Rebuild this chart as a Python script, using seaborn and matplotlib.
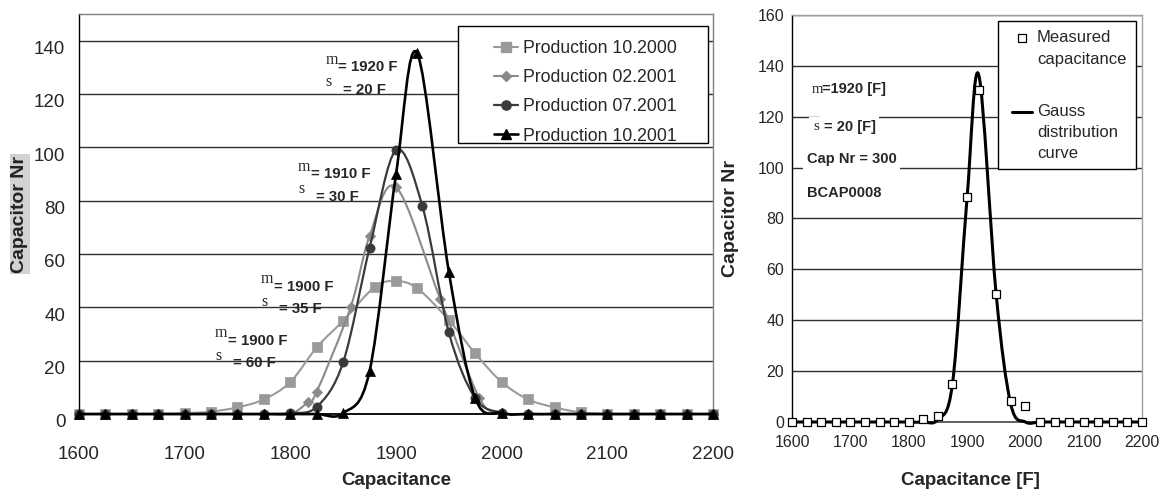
import numpy as np
import matplotlib
matplotlib.use("Agg")
import matplotlib.pyplot as plt
import matplotlib.transforms as mtransforms
from matplotlib.path import Path
from matplotlib.patches import PathPatch, Rectangle
from matplotlib.lines import Line2D
import seaborn as sns

# ---------------- data: capacitance distributions per production batch ----------------
x_step25 = [1600, 1625, 1650, 1675, 1700, 1725, 1750, 1775, 1800, 1825, 1850, 1875,
            1900, 1925, 1950, 1975, 2000, 2025, 2050, 2075, 2100, 2125, 2150, 2175, 2200]

prod_2000_10_x = [1600, 1625, 1650, 1675, 1700, 1725, 1750, 1775, 1800, 1825, 1850, 1880,
                  1900, 1920, 1950, 1975, 2000, 2025, 2050, 2075, 2100, 2125, 2150, 2175, 2200]
prod_2000_10_y = [0, 0, 0, 0, 0.3, 0.9, 2.5, 5.5, 12, 25, 35, 47.7,
                  49.8, 47.2, 35.2, 22.7, 12, 5.5, 2.5, 0.6, 0, 0, 0, 0, 0]

prod_2001_02_x = [1600, 1625, 1650, 1675, 1700, 1725, 1750, 1775, 1800, 1817, 1825, 1857,
                  1875, 1900, 1942, 1979, 2000, 2025, 2050, 2075, 2100, 2125, 2150, 2175, 2200]
prod_2001_02_y = [0, 0, 0, 0, 0, 0, 0, 0, 0, 4.6, 8.4, 40,
                  66.7, 85.1, 43, 5.9, 0.5, 0, 0, 0, 0, 0, 0, 0, 0]

prod_2001_07_x = x_step25
prod_2001_07_y = [0, 0, 0, 0, 0, 0, 0, 0, 0.3, 2.7, 19.4, 62.3,
                  98.9, 77.9, 30.6, 5.9, 0.5, 0, 0, 0, 0, 0, 0, 0, 0]

prod_2001_10_x = [1600, 1625, 1650, 1675, 1700, 1725, 1750, 1775, 1800, 1825, 1850, 1875,
                  1900, 1920, 1950, 1975, 2000, 2025, 2050, 2075, 2100, 2125, 2150, 2175, 2200]
prod_2001_10_y = [0, 0, 0, 0, 0, 0, 0, 0, 0, 0, 0.3, 16.1,
                  89.9, 135.3, 53.3, 5.9, 0.3, 0, 0, 0, 0, 0, 0, 0, 0]

series_labels = ["Production 10.2000", "Production 02.2001",
                 "Production 07.2001", "Production 10.2001"]

# ---------------- data: BCAP0008 measurement vs. Gauss fit ----------------
bcap_x = [1600, 1625, 1650, 1675, 1700, 1725, 1750, 1775, 1800, 1825, 1850, 1875,
          1900, 1920, 1950, 1975, 2000, 2025, 2050, 2075, 2100, 2125, 2150, 2175, 2200]
bcap_measured = [0, 0, 0, 0, 0, 0, 0, 0, 0, 1.3, 2.4, 15.1,
                 88.5, 130.5, 50.2, 8.3, 6.3, 0, 0, 0, 0, 0, 0, 0, 0]
bcap_gauss = [0, 0, 0, 0, 0, 0, 0, 0, 0, 0, 1, 15,
              88, 136.5, 50, 7, 0, 0, 0, 0, 0, 0, 0, 0, 0]

x_ticks = [1600, 1700, 1800, 1900, 2000, 2100, 2200]
left_y_ticks = [0, 20, 40, 60, 80, 100, 120, 140]
right_y_ticks = [0, 20, 40, 60, 80, 100, 120, 140, 160]

# ---------------- style ----------------
sns.set_style("white")
plt.rcParams["font.family"] = ["Liberation Sans", "DejaVu Sans"]
plt.rcParams["axes.linewidth"] = 1.0

SERIF = ["Liberation Serif", "DejaVu Serif"]


def smooth_path(xs, ys):
    """Spreadsheet-style smoothed line: cubic Bezier through every point."""
    pts = np.column_stack([xs, ys]).astype(float)
    n = len(pts)
    verts = [pts[0]]
    codes = [Path.MOVETO]
    for i in range(n - 1):
        p0 = pts[i - 1] if i > 0 else pts[i]
        p1 = pts[i]
        p2 = pts[i + 1]
        p3 = pts[i + 2] if i + 2 < n else pts[i + 1]
        verts += [p1 + (p2 - p0) / 6.0, p2 - (p3 - p1) / 6.0, p2]
        codes += [Path.CURVE4] * 3
    return Path(verts, codes)


fig = plt.figure(figsize=(11.63, 4.93), dpi=100)
ax1 = fig.add_axes([0.0679, 0.1602, 0.5452, 0.8114])
ax2 = fig.add_axes([0.681, 0.144, 0.301, 0.8256])

# ================= left panel =================
left_series = [
    (prod_2000_10_x, prod_2000_10_y, "#9a9a9a", "s", 46, 1.5),
    (prod_2001_02_x, prod_2001_02_y, "#8a8a8a", "D", 28, 1.5),
    (prod_2001_07_x, prod_2001_07_y, "#3a3a3a", "o", 44, 1.6),
    (prod_2001_10_x, prod_2001_10_y, "#000000", "^", 52, 1.9),
]
for k, (xs, ys, col, mk, sz, lw) in enumerate(left_series):
    patch = PathPatch(smooth_path(xs, ys), facecolor="none", edgecolor=col, lw=lw,
                      zorder=3 + k, clip_on=False)
    ax1.add_patch(patch)
    sns.scatterplot(x=xs, y=ys, marker=mk, s=sz, color=col, edgecolor=col,
                    linewidth=0.5, ax=ax1, zorder=3.5 + k, clip_on=False, legend=False)

ax1.set_xlim(1600, 2200)
ax1.set_ylim(0, 150)
ax1.set_xticks(x_ticks)
ax1.set_yticks(left_y_ticks)
ax1.yaxis.grid(True, color="#303030", lw=1.0)
ax1.set_axisbelow(True)
for side in ("top", "right"):
    ax1.spines[side].set_color("#808080")
ax1.spines["left"].set_color("black")
ax1.spines["bottom"].set_color("black")
ax1.spines["bottom"].set_linewidth(1.3)
ax1.tick_params(axis="x", direction="out", length=5, width=1, pad=18, labelsize=13.5)
ax1.tick_params(axis="y", direction="out", length=4.3, width=1, pad=5.5, labelsize=13.5)
shift = mtransforms.ScaledTranslation(0, -5 / 72, fig.dpi_scale_trans)
for lbl in ax1.get_yticklabels():
    lbl.set_transform(lbl.get_transform() + shift)

ax1.set_xlabel("Capacitance", fontsize=13.5, fontweight="bold")
ax1.xaxis.set_label_coords(0.5, -0.165)
ax1.xaxis.label.set_va("center")
ax1.set_ylabel("Capacitor Nr", fontsize=14, fontweight="bold", color="#222222",
               bbox=dict(facecolor="#d2d2d2", edgecolor="none", pad=1.0))
ax1.yaxis.set_label_coords(-0.093, 0.5)
ax1.yaxis.label.set_va("center")

# legend frame and entries
ax1.add_patch(Rectangle((0.598, 0.6775), 0.394, 0.2925, transform=ax1.transAxes,
                        facecolor="white", edgecolor="black", lw=1.0, zorder=8))
handles = [Line2D([], [], color=c, marker=m, markersize=np.sqrt(s), lw=lw,
                  markeredgecolor=c) for (_, _, c, m, s, lw) in left_series]
leg = ax1.legend(handles, series_labels, loc="upper left", bbox_to_anchor=(0.6546, 0.935),
                 frameon=False, fontsize=12.7, borderpad=0, borderaxespad=0,
                 handlelength=1.36, handletextpad=0.28, labelspacing=0.69)
leg.set_zorder(9)

# distribution parameters written next to each curve
annotations = [
    (1845.1, 130.1, "= 1920 F", "= 20 F"),
    (1819.3, 90.0, "= 1910 F", "= 30 F"),
    (1784.5, 47.7, "= 1900 F", "= 35 F"),
    (1740.7, 27.5, "= 1900 F", "= 60 F"),
]
for ax_x, ax_y, mu_txt, sig_txt in annotations:
    ax1.text(ax_x, ax_y, mu_txt, fontsize=10.8, fontweight="bold", va="center", ha="left", zorder=10)
    ax1.annotate("m", (ax_x, ax_y), xytext=(-9.2, 5.4), textcoords="offset points",
                 fontsize=11.5, family=SERIF, va="center", ha="left", zorder=10)
    ax1.annotate("s", (ax_x, ax_y), xytext=(-9.2, -11.0), textcoords="offset points",
                 fontsize=11.5, family=SERIF, va="center", ha="left", zorder=10)
    ax1.annotate(sig_txt, (ax_x, ax_y), xytext=(3.6, -16.2), textcoords="offset points",
                 fontsize=10.8, fontweight="bold", va="center", ha="left", zorder=10)

# ================= right panel =================
gauss = PathPatch(smooth_path(bcap_x, bcap_gauss), facecolor="none", edgecolor="black",
                  lw=2.2, zorder=4, clip_on=False)
ax2.add_patch(gauss)
sns.scatterplot(x=bcap_x, y=bcap_measured, marker="s", s=28, color="white",
                edgecolor="black", linewidth=0.9, ax=ax2, zorder=5, clip_on=False, legend=False)

ax2.set_xlim(1600, 2200)
ax2.set_ylim(0, 160)
ax2.set_xticks(x_ticks)
ax2.set_xticks(x_step25, minor=True)
ax2.set_yticks(right_y_ticks)
ax2.yaxis.grid(True, color="#303030", lw=1.0)
ax2.set_axisbelow(True)
for side in ("top", "right"):
    ax2.spines[side].set_color("#a0a0a0")
ax2.spines["left"].set_color("black")
ax2.spines["bottom"].set_color("#606060")
ax2.spines["bottom"].set_linewidth(1.4)
ax2.tick_params(axis="x", which="major", direction="inout", length=6, width=1,
                pad=6, labelsize=11.5, color="#606060")
ax2.tick_params(axis="x", which="minor", direction="in", length=2.5, width=1, color="#606060")
ax2.tick_params(axis="y", direction="inout", length=6.5, width=1, pad=2.5, labelsize=11.5)

ax2.set_xlabel("Capacitance [F]", fontsize=13.5, fontweight="bold")
ax2.xaxis.set_label_coords(0.509, -0.1434)
ax2.xaxis.label.set_va("center")
ax2.set_ylabel("Capacitor Nr", fontsize=14, fontweight="bold")
ax2.yaxis.set_label_coords(-0.176, 0.5)
ax2.yaxis.label.set_va("center")

# fit parameters
box = dict(facecolor="white", edgecolor="none", pad=2.5)
ax2.text(1651.4, 130.8, "=1920 [F]", fontsize=10.5, fontweight="bold", va="center", zorder=10, bbox=box)
ax2.text(1634.3, 130.8, "m", fontsize=10.5, family=SERIF, va="center", zorder=11)
ax2.text(1654.2, 116.0, "= 20 [F]", fontsize=10.5, fontweight="bold", va="center", zorder=10, bbox=box)
ax2.text(1636.0, 116.0, "s", fontsize=11, family=SERIF, va="center", zorder=10, bbox=box)
ax2.text(1625.7, 103.2, "Cap Nr = 300", fontsize=10.5, fontweight="bold", va="center", zorder=10, bbox=box)
ax2.text(1625.7, 90.1, "BCAP0008", fontsize=10.5, fontweight="bold", va="center", zorder=10)

# legend
ax2.add_patch(Rectangle((0.5894, 0.6213), 0.3946, 0.364, transform=ax2.transAxes,
                        facecolor="white", edgecolor="black", lw=1.0, zorder=8))
ax2.add_line(Line2D([0.657], [0.9435], transform=ax2.transAxes, marker="s", markersize=5.5,
                    markerfacecolor="white", markeredgecolor="black", markeredgewidth=0.9,
                    lw=0, zorder=9))
ax2.text(0.70, 0.962, "Measured\ncapacitance", transform=ax2.transAxes, fontsize=12,
         va="top", ha="left", linespacing=1.55, zorder=9)
ax2.add_line(Line2D([0.6286, 0.6857], [0.7615, 0.7615], transform=ax2.transAxes,
                    color="black", lw=2.2, zorder=9))
ax2.text(0.70, 0.781, "Gauss\ndistribution\ncurve", transform=ax2.transAxes, fontsize=12,
         va="top", ha="left", linespacing=1.5, zorder=9)

fig.savefig("out.png", dpi=100)
